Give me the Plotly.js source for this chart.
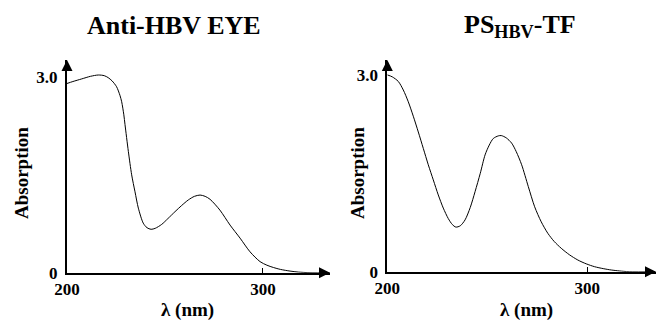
<!DOCTYPE html>
<html>
<head>
<meta charset="utf-8">
<script src="https://cdn.plot.ly/plotly-3.0.1.min.js"></script>
<style>html,body{margin:0;padding:0;background:#fff;}#chart{width:657px;height:320px;}</style>
</head>
<body>
<div id="chart"></div>
<script>
// Anti-HBV EYE spectrum (wavelength nm, absorption)
const wlA  = [200, 203, 207.5, 212, 216, 219, 221, 223, 225.3, 227, 227.9, 229, 229.6, 231.3, 233, 234.7, 236.4, 238.9, 240.8, 242.9, 245, 248.3, 251.5, 255.1, 258.5, 261.9, 265, 267.9, 270.5, 273, 278, 283.2, 288.3, 293.4, 298.5, 302, 305.3, 309, 313.8, 318, 324, 334];
const absA = [2.90, 2.93, 2.97, 3.01, 3.03, 3.02, 2.99, 2.94, 2.85, 2.72, 2.62, 2.42, 2.27, 1.86, 1.50, 1.24, 0.99, 0.76, 0.69, 0.665, 0.68, 0.74, 0.83, 0.935, 1.03, 1.115, 1.17, 1.19, 1.17, 1.125, 0.96, 0.73, 0.53, 0.32, 0.17, 0.115, 0.08, 0.05, 0.025, 0.01, 0.0, 0.0];

// PS(HBV)-TF spectrum
const wlB  = [200, 202.5, 205.5, 208, 210.5, 213, 215.5, 218, 220.5, 223, 225.5, 228, 230.5, 232.5, 234.3, 236.5, 238.9, 241.5, 243.9, 246.5, 248.9, 251, 253, 255.5, 257, 259.5, 262.2, 264.5, 267.2, 270.5, 273.7, 277, 280.3, 283.5, 287, 291, 295.3, 299.5, 303.7, 308, 312, 316, 321, 334];
const absB = [3.00, 2.97, 2.90, 2.77, 2.59, 2.37, 2.13, 1.88, 1.63, 1.40, 1.17, 0.97, 0.81, 0.72, 0.68, 0.70, 0.79, 0.98, 1.22, 1.50, 1.78, 1.93, 2.03, 2.07, 2.075, 2.04, 1.96, 1.83, 1.63, 1.30, 0.99, 0.76, 0.585, 0.46, 0.357, 0.26, 0.178, 0.12, 0.076, 0.047, 0.026, 0.012, 0.0, 0.0];

// Axis ticks
const xTickVals = [200, 300];
const xTickText = ['200', '300'];
const yTickVals = [0, 3];
const yTickText = ['0', '3.0'];

// Text
const titleA = 'Anti-HBV EYE';
const titleB = 'PS<sub>HBV</sub>-TF';
const yTitle = 'Absorption';
const xTitle = 'λ (nm)';

const W = 657, H = 320;
const px = v => v / W;
const py = v => 1 - v / H;
const serif = 'Liberation Serif';
const tickFont = {family: serif, size: 17, color: '#000', weight: 'bold'};

const xRangeA = [200, 334.2], yRangeA = [0, 3.26];
const xRangeB = [200, 334.4], yRangeB = [0, 3.227];

function xAxis(domain, range, anchor) {
  return {
    domain: domain, range: range, anchor: anchor,
    showline: true, linecolor: '#000', linewidth: 2,
    ticks: 'inside', ticklen: 5, tickwidth: 1, tickcolor: '#000',
    tickmode: 'array', tickvals: xTickVals, ticktext: xTickText,
    tickfont: tickFont, ticklabelstandoff: 0,
    showgrid: false, zeroline: false, fixedrange: true
  };
}
function yAxis(domain, range, anchor) {
  return {
    domain: domain, range: range, anchor: anchor,
    showline: true, linecolor: '#000', linewidth: 2,
    ticks: '', tickmode: 'array', tickvals: yTickVals, ticktext: yTickText,
    tickfont: tickFont, ticklabelstandoff: 4,
    showgrid: false, zeroline: false, fixedrange: true
  };
}

const traces = [
  {x: wlA, y: absA, xaxis: 'x', yaxis: 'y', type: 'scatter', mode: 'lines',
   line: {color: '#000', width: 1, shape: 'spline', smoothing: 0.8}, hoverinfo: 'skip'},
  {x: wlB, y: absB, xaxis: 'x2', yaxis: 'y2', type: 'scatter', mode: 'lines',
   line: {color: '#000', width: 1, shape: 'spline', smoothing: 0.8}, hoverinfo: 'skip'}
];

function arrow(xref, yref, x, y, ax, ay) {
  return {xref: xref, yref: yref, x: x, y: y, ax: ax, ay: ay, text: '',
          showarrow: true, arrowhead: 2, arrowsize: 1.1, arrowwidth: 2, arrowcolor: '#000', standoff: 0};
}
function label(text, x, y, size, angle) {
  return {xref: 'paper', yref: 'paper', x: px(x), y: py(y), text: text, showarrow: false,
          xanchor: 'center', yanchor: 'middle', textangle: angle || 0,
          font: {family: serif, size: size, color: '#000', weight: 'bold'}};
}

const layout = {
  width: W, height: H,
  margin: {l: 0, r: 0, t: 0, b: 0},
  paper_bgcolor: '#fff', plot_bgcolor: 'rgba(0,0,0,0)',
  showlegend: false,
  xaxis:  xAxis([px(67), px(330)], xRangeA, 'y'),
  yaxis:  yAxis([py(272.7), py(60)], yRangeA, 'x'),
  xaxis2: xAxis([px(387.3), px(656)], xRangeB, 'y2'),
  yaxis2: yAxis([py(271.7), py(60)], yRangeB, 'x2'),
  annotations: [
    arrow('x', 'y', xRangeA[1], 0, -12, 0),
    arrow('x', 'y', 200, yRangeA[1], 0, 12),
    arrow('x2', 'y2', xRangeB[1], 0, -12, 0),
    arrow('x2', 'y2', 200, yRangeB[1], 0, 12),
    label(titleA, 174, 25, 26),
    label(titleB, 520, 26, 26),
    label(yTitle, 21, 173, 19, -90),
    label(yTitle, 357, 173, 19, -90),
    label(xTitle, 187, 310, 19),
    label(xTitle, 526, 310, 19)
  ]
};

Plotly.newPlot('chart', traces, layout, {staticPlot: true, displayModeBar: false});
</script>
</body>
</html>
